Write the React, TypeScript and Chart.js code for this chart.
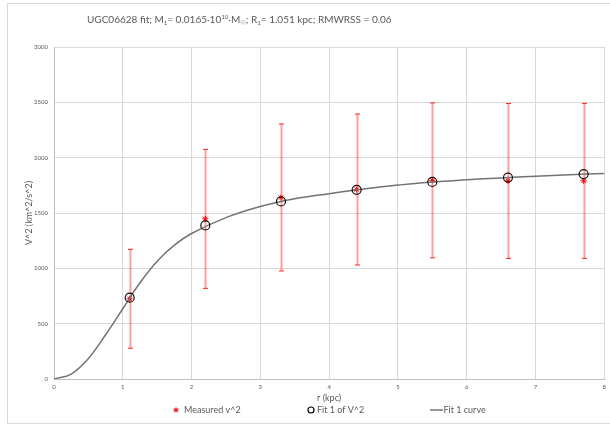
import React, { useEffect, useRef } from "react";
import { Chart, registerables } from "chart.js";

Chart.register(...registerables);

// ---- data ----
const radii = [1.1, 2.2, 3.3, 4.4, 5.5, 6.6, 7.7];
const measuredV2 = [725, 1447, 1640, 1712, 1795, 1790, 1790];
const measuredErr = [447, 628, 664, 682, 700, 700, 700];
const fitV2 = [735, 1388, 1605, 1709, 1781, 1820, 1852];
const curveR = [0, 0.25, 0.5, 0.75, 1, 1.25, 1.5, 1.75, 2, 2.5, 3, 3.5, 4, 4.5, 5, 5.5, 6, 6.5, 7, 7.5, 8];
const curveV2 = [0, 45, 185, 400, 635, 870, 1065, 1210, 1315, 1458, 1558, 1628, 1675, 1717, 1752, 1781, 1800, 1817, 1832, 1846, 1858];
const xTickValues = [0, 1, 2, 3, 4, 5, 6, 7, 8];
const yTickValues = [0, 500, 1000, 1500, 2000, 2500, 3000];

const titleParts: { t: string; k: "n" | "sub" | "sup" }[] = [
  { t: "UGC06628 fit; M", k: "n" },
  { t: "1", k: "sub" },
  { t: "= 0.0165·10", k: "n" },
  { t: "10", k: "sup" },
  { t: "·M", k: "n" },
  { t: "☉", k: "sub" },
  { t: "; R", k: "n" },
  { t: "1", k: "sub" },
  { t: "= 1.051 kpc; RMWRSS = 0.06", k: "n" },
];
const legendLabels = ["Measured v^2", "Fit 1 of V^2", "Fit 1 curve"];

const FONT = "Lato, 'Open Sans', 'DejaVu Sans', sans-serif";
const TXT = "#595959";

function drawStar(ctx: CanvasRenderingContext2D, x: number, y: number, r: number) {
  ctx.beginPath();
  for (let a = 0; a < 4; a++) {
    const ang = (a * Math.PI) / 4;
    ctx.moveTo(x - r * Math.cos(ang), y - r * Math.sin(ang));
    ctx.lineTo(x + r * Math.cos(ang), y + r * Math.sin(ang));
  }
  ctx.stroke();
}

const decorPlugin = {
  id: "decor",
  beforeDraw(chart: any) {
    const ctx = chart.ctx;
    ctx.save();
    ctx.fillStyle = "#ffffff";
    ctx.fillRect(0, 0, chart.width, chart.height);
    ctx.strokeStyle = "#d9d9d9";
    ctx.lineWidth = 1;
    ctx.strokeRect(7.5, 3.5, 640, 420);
    ctx.restore();
  },
  beforeDatasetsDraw(chart: any) {
    const ctx = chart.ctx;
    const xs = chart.scales.x;
    const ys = chart.scales.y;
    ctx.save();
    for (let i = 0; i < radii.length; i++) {
      const px = Math.round(xs.getPixelForValue(radii[i])) + 0.5;
      const top = ys.getPixelForValue(measuredV2[i] + measuredErr[i]);
      const bot = ys.getPixelForValue(measuredV2[i] - measuredErr[i]);
      ctx.strokeStyle = "rgba(255,40,40,0.45)";
      ctx.lineWidth = 2;
      ctx.beginPath();
      ctx.moveTo(px, top);
      ctx.lineTo(px, bot);
      ctx.stroke();
      ctx.strokeStyle = "rgba(255,0,0,0.85)";
      ctx.lineWidth = 1;
      ctx.beginPath();
      ctx.moveTo(px - 2.5, top);
      ctx.lineTo(px + 2.5, top);
      ctx.moveTo(px - 2.5, bot);
      ctx.lineTo(px + 2.5, bot);
      ctx.stroke();
    }
    ctx.restore();
  },
  afterDraw(chart: any) {
    const ctx = chart.ctx;
    ctx.save();
    // title with sub/superscripts
    const targetW = 281;
    const measure = (size: number) => {
      let w = 0;
      for (const p of titleParts) {
        const s = p.k === "n" ? size : size * 0.62;
        ctx.font = `${s}px ${FONT}`;
        w += ctx.measureText(p.t).width;
      }
      return w;
    };
    let size = Math.max(10, Math.min(15, (13 * targetW) / measure(13)));
    let x = 87;
    const yMid = 20;
    ctx.fillStyle = TXT;
    ctx.textBaseline = "middle";
    ctx.textAlign = "left";
    for (const p of titleParts) {
      const s = p.k === "n" ? size : size * 0.62;
      ctx.font = `${s}px ${FONT}`;
      const dy = p.k === "sub" ? size * 0.3 : p.k === "sup" ? -size * 0.3 : 0;
      ctx.fillText(p.t, x, yMid + dy);
      x += ctx.measureText(p.t).width;
    }

    // legend
    const ly = 410;
    ctx.font = `9px ${FONT}`;
    ctx.fillStyle = TXT;
    ctx.strokeStyle = "#ff0000";
    ctx.lineWidth = 1;
    drawStar(ctx, 176, ly, 2.6);
    ctx.fillText(legendLabels[0], 184, ly);
    ctx.strokeStyle = "#000000";
    ctx.lineWidth = 1.2;
    ctx.beginPath();
    ctx.arc(311, ly, 3, 0, Math.PI * 2);
    ctx.stroke();
    ctx.fillText(legendLabels[1], 317, ly);
    ctx.strokeStyle = "#737373";
    ctx.lineWidth = 1.5;
    ctx.beginPath();
    ctx.moveTo(430, ly);
    ctx.lineTo(443, ly);
    ctx.stroke();
    ctx.fillText(legendLabels[2], 443.5, ly);
    ctx.restore();
  },
};

export default function App() {
  const ref = useRef<HTMLCanvasElement | null>(null);
  useEffect(() => {
    document.body.style.margin = "0";
    const canvas = ref.current;
    if (!canvas) return;
    const chart = new Chart(canvas, {
      type: "scatter",
      data: {
        datasets: [
          {
            label: legendLabels[1],
            data: radii.map((r, i) => ({ x: r, y: fitV2[i] })),
            pointStyle: "circle",
            pointRadius: 4.5,
            borderColor: "#111111",
            backgroundColor: "rgba(0,0,0,0)",
            pointBorderWidth: 1.2,
            showLine: false,
            order: 0,
          },
          {
            label: legendLabels[2],
            type: "line",
            data: curveR.map((r, i) => ({ x: r, y: curveV2[i] })),
            borderColor: "#737373",
            borderWidth: 1.5,
            pointRadius: 0,
            tension: 0.4,
            fill: false,
            order: 1,
          },
          {
            label: legendLabels[0],
            data: radii.map((r, i) => ({ x: r, y: measuredV2[i] })),
            pointStyle: "star",
            pointRadius: 3,
            borderColor: "#ff0000",
            backgroundColor: "#ff0000",
            pointBorderWidth: 1,
            showLine: false,
            order: 2,
          },
        ],
      } as any,
      options: {
        animation: false,
        responsive: false,
        events: [],
        layout: { padding: { left: 0, right: 4, top: 47, bottom: 0 } },
        plugins: {
          legend: { display: false },
          title: { display: false },
          tooltip: { enabled: false },
        },
        scales: {
          x: {
            type: "linear",
            min: 0,
            max: 8,
            afterBuildTicks: (s: any) => {
              s.ticks = xTickValues.map((v) => ({ value: v }));
            },
            afterFit: (s: any) => {
              s.height = 47;
            },
            ticks: {
              font: { size: 6, family: FONT },
              color: TXT,
              padding: 4,
              maxRotation: 0,
              callback: (v: any) => String(v),
            },
            grid: { color: "#d9d9d9", drawTicks: false, lineWidth: 1 },
            border: { color: "#bfbfbf" },
            title: {
              display: true,
              text: "r (kpc)",
              color: TXT,
              font: { size: 9, family: FONT },
              padding: { top: 0, bottom: 22.6 },
            },
          },
          y: {
            type: "linear",
            min: 0,
            max: 3000,
            afterBuildTicks: (s: any) => {
              s.ticks = yTickValues.map((v) => ({ value: v }));
            },
            afterFit: (s: any) => {
              s.width = 54;
            },
            ticks: {
              font: { size: 6, family: FONT },
              color: TXT,
              padding: 6,
              callback: (v: any) => String(v),
            },
            grid: { color: "#d9d9d9", drawTicks: false, lineWidth: 1 },
            border: { color: "#bfbfbf" },
            title: {
              display: true,
              text: "V^2 (km^2/s^2)",
              color: TXT,
              font: { size: 9, family: FONT },
              padding: { top: 23.6, bottom: 0 },
            },
          },
        },
      } as any,
      plugins: [decorPlugin],
    });
    return () => chart.destroy();
  }, []);
  return <canvas ref={ref} width={610} height={426} style={{ display: "block" }} />;
}
